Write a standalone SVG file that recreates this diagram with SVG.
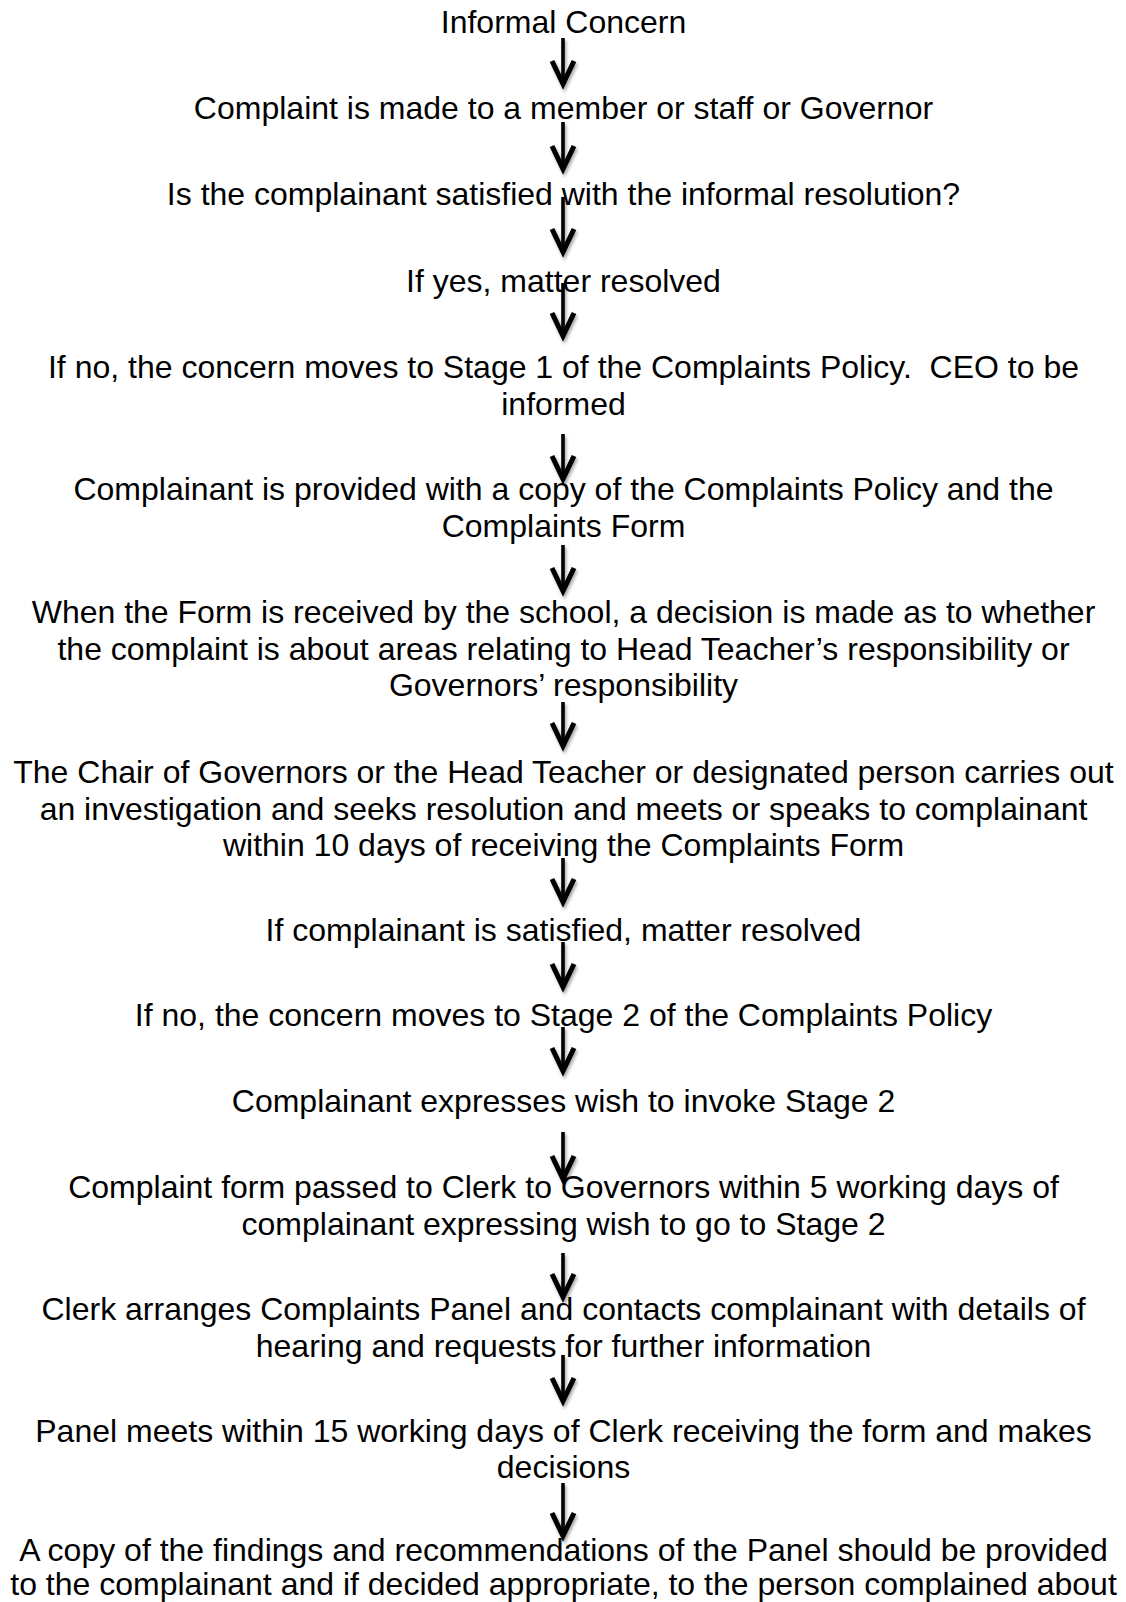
<svg xmlns="http://www.w3.org/2000/svg" width="1126" height="1602" viewBox="0 0 1126 1602">
  <style>
    .t { font-family: "Liberation Sans", Arial, sans-serif; font-size: 32px; fill: #000; text-anchor: middle; }
    .stem { stroke: #000; stroke-width: 3.6; fill: none; }
    .head { stroke: #000; stroke-width: 5; fill: none; stroke-linejoin: miter; stroke-linecap: butt; }
  </style>
  <defs>
    <filter id="sh" x="-50%" y="-20%" width="200%" height="150%">
      <feDropShadow dx="1.5" dy="2.5" stdDeviation="1.8" flood-color="#000" flood-opacity="0.35"/>
    </filter>
    <g id="arrow">
      <path class="head" d="M-11,-24 L0,-1 L11,-24"/>
    </g>
  </defs>
  <rect width="1126" height="1602" fill="#fff"/>

  <g id="connectors" filter="url(#sh)">
    <path class="stem" d="M563,38 V82"/><use href="#arrow" x="563" y="85"/>
    <path class="stem" d="M563,122 V167"/><use href="#arrow" x="563" y="170"/>
    <path class="stem" d="M563,197 V250"/><use href="#arrow" x="563" y="253"/>
    <path class="stem" d="M563,283 V334"/><use href="#arrow" x="563" y="337"/>
    <path class="stem" d="M563,434 V477"/><use href="#arrow" x="563" y="480"/>
    <path class="stem" d="M563,545 V589"/><use href="#arrow" x="563" y="592"/>
    <path class="stem" d="M563,702 V744"/><use href="#arrow" x="563" y="747"/>
    <path class="stem" d="M563,858 V900"/><use href="#arrow" x="563" y="903"/>
    <path class="stem" d="M563,942 V985"/><use href="#arrow" x="563" y="988"/>
    <path class="stem" d="M563,1027 V1069"/><use href="#arrow" x="563" y="1072"/>
    <path class="stem" d="M563,1132 V1177"/><use href="#arrow" x="563" y="1180"/>
    <path class="stem" d="M563,1253 V1295"/><use href="#arrow" x="563" y="1298"/>
    <path class="stem" d="M563,1355 V1399"/><use href="#arrow" x="563" y="1402"/>
    <path class="stem" d="M563,1483 V1534"/><use href="#arrow" x="563" y="1537"/>
  </g>

  <g id="n1"><text class="t" x="563.5" y="33">Informal Concern</text></g>
  <g id="n2"><text class="t" x="563.5" y="119">Complaint is made to a member or staff or Governor</text></g>
  <g id="n3"><text class="t" x="563.5" y="205">Is the complainant satisfied with the informal resolution?</text></g>
  <g id="n4"><text class="t" x="563.5" y="292">If yes, matter resolved</text></g>
  <g id="n5">
    <text class="t" x="563.5" y="378" xml:space="preserve">If no, the concern moves to Stage 1 of the Complaints Policy.  CEO to be</text>
    <text class="t" x="563.5" y="414.5">informed</text>
  </g>
  <g id="n6">
    <text class="t" x="563.5" y="500">Complainant is provided with a copy of the Complaints Policy and the</text>
    <text class="t" x="563.5" y="537">Complaints Form</text>
  </g>
  <g id="n7">
    <text class="t" x="563.5" y="623">When the Form is received by the school, a decision is made as to whether</text>
    <text class="t" x="563.5" y="659.5">the complaint is about areas relating to Head Teacher’s responsibility or</text>
    <text class="t" x="563.5" y="696">Governors’ responsibility</text>
  </g>
  <g id="n8">
    <text class="t" x="563.5" y="783">The Chair of Governors or the Head Teacher or designated person carries out</text>
    <text class="t" x="563.5" y="819.5">an investigation and seeks resolution and meets or speaks to complainant</text>
    <text class="t" x="563.5" y="855.5">within 10 days of receiving the Complaints Form</text>
  </g>
  <g id="n9"><text class="t" x="563.5" y="941">If complainant is satisfied, matter resolved</text></g>
  <g id="n10"><text class="t" x="563.5" y="1026">If no, the concern moves to Stage 2 of the Complaints Policy</text></g>
  <g id="n11"><text class="t" x="563.5" y="1112">Complainant expresses wish to invoke Stage 2</text></g>
  <g id="n12">
    <text class="t" x="563.5" y="1198">Complaint form passed to Clerk to Governors within 5 working days of</text>
    <text class="t" x="563.5" y="1234.5">complainant expressing wish to go to Stage 2</text>
  </g>
  <g id="n13">
    <text class="t" x="563.5" y="1320">Clerk arranges Complaints Panel and contacts complainant with details of</text>
    <text class="t" x="563.5" y="1356.5">hearing and requests for further information</text>
  </g>
  <g id="n14">
    <text class="t" x="563.5" y="1441.5">Panel meets within 15 working days of Clerk receiving the form and makes</text>
    <text class="t" x="563.5" y="1478">decisions</text>
  </g>
  <g id="n15">
    <text class="t" x="563.5" y="1561">A copy of the findings and recommendations of the Panel should be provided</text>
    <text class="t" x="563.5" y="1594.5">to the complainant and if decided appropriate, to the person complained about</text>
  </g>
</svg>
